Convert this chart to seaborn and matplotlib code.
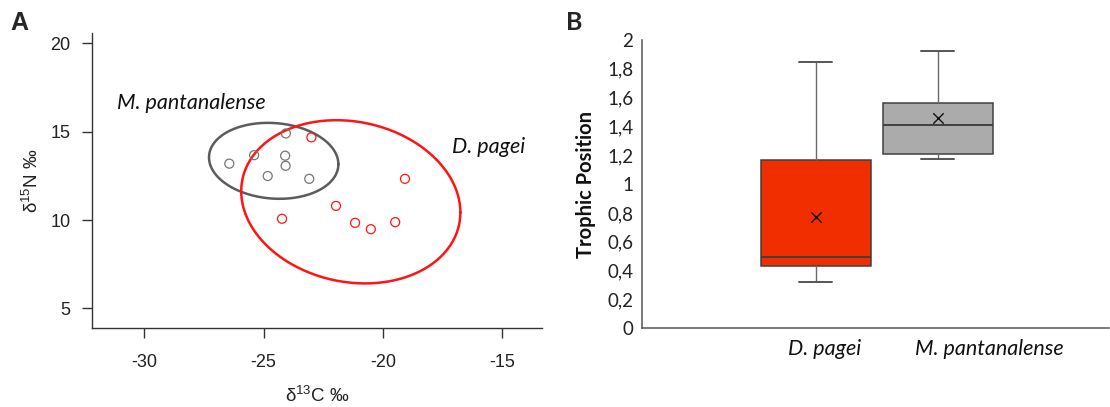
import numpy as np
import pandas as pd
import matplotlib
matplotlib.use("Agg")
import matplotlib.pyplot as plt
from matplotlib.ticker import FuncFormatter
import seaborn as sns

# ---- data ----
# panel A: stable isotopes
mp_d13c = [-26.44, -25.40, -24.07, -24.10, -24.08, -24.83, -23.09]
mp_d15n = [13.19, 13.67, 14.90, 13.64, 13.07, 12.49, 12.33]
dp_d13c = [-23.00, -19.08, -21.97, -24.23, -21.17, -20.51, -19.49]
dp_d15n = [14.68, 12.33, 10.80, 10.07, 9.84, 9.48, 9.88]

# ellipses: centre, sd along x, sd along y, correlation
mp_ellipse = dict(cx=-24.58, cy=13.35, sx=2.71, sy=2.15, r=-0.09)
dp_ellipse = dict(cx=-21.35, cy=11.03, sx=4.59, sy=4.62, r=-0.13)

# panel B: trophic position five-number summary + mean
species = ["D. pagei", "M. pantanalense"]
tp_min = [0.323, 1.172]
tp_q1 = [0.434, 1.209]
tp_median = [0.497, 1.412]
tp_q3 = [1.168, 1.565]
tp_max = [1.85, 1.926]
tp_mean = [0.774, 1.457]

GRAY_PT = "#767676"
GRAY_EL = "#5c5c5c"
RED = "#ff1414"
BOX_COLORS = ["#f02e00", "#ababab"]
CAL = ["Lato", "DejaVu Sans"]   # stand-in for Calibri


def ellipse_xy(cx, cy, sx, sy, r):
    t = np.linspace(0, 2 * np.pi, 300)
    x = cx + sx * np.cos(t)
    y = cy + sy * (r * np.cos(t) + np.sqrt(1 - r ** 2) * np.sin(t))
    return x, y


sns.set_style("ticks")
plt.rcParams["font.family"] = ["Liberation Sans", "DejaVu Sans"]
plt.rcParams["axes.unicode_minus"] = False
plt.rcParams["mathtext.fontset"] = "custom"
plt.rcParams["mathtext.rm"] = "Liberation Sans"
plt.rcParams["mathtext.it"] = "Liberation Sans:italic"

fig = plt.figure(figsize=(11.1, 4.07), dpi=100)
axA = fig.add_axes([0.0829, 0.1934, 0.4054, 0.7248])
axB = fig.add_axes([0.5781, 0.1934, 0.4210, 0.7083])

# ---------------- panel A ----------------
for el, col in [(mp_ellipse, GRAY_EL), (dp_ellipse, RED)]:
    ex, ey = ellipse_xy(**el)
    axA.plot(ex, ey, color=col, lw=1.8)

sns.scatterplot(x=mp_d13c, y=mp_d15n, ax=axA, s=42, facecolor="none",
                edgecolor=GRAY_PT, linewidth=0.9, zorder=3)
sns.scatterplot(x=dp_d13c, y=dp_d15n, ax=axA, s=42, facecolor="none",
                edgecolor=RED, linewidth=0.9, zorder=3)

axA.set_xlim(-32.19, -13.34)
axA.set_ylim(3.87, 20.57)
axA.set_xticks([-30, -25, -20, -15])
axA.set_yticks([5, 10, 15, 20])
for side in ["top", "right"]:
    axA.spines[side].set_visible(False)
for side in ["left", "bottom"]:
    axA.spines[side].set_color("#333333")
    axA.spines[side].set_linewidth(1.0)
axA.tick_params(axis="both", colors="#333333", labelcolor="#222222",
                labelsize=13, length=7.5, width=1.0, direction="out")
axA.tick_params(axis="x", pad=11)
axA.tick_params(axis="y", pad=8)
axA.set_xlabel("δ$^{13}$C ‰", fontsize=13.5, color="#222222")
axA.set_ylabel("δ$^{15}$N ‰", fontsize=13.5, color="#222222")
axA.xaxis.set_label_coords(0.5, -0.195)
axA.yaxis.set_label_coords(-0.112, 0.5)

axA.text(-31.15, 16.6, "M. pantanalense", fontsize=15.5, style="italic",
         family=CAL, ha="left", va="center", color="#111111")
axA.text(-17.09, 14.15, "D. pagei", fontsize=15.5, style="italic",
         family=CAL, ha="left", va="center", color="#111111")

# ---------------- panel B ----------------
# five-number summary per species, fed to seaborn's boxplot
box_df = pd.DataFrame({
    "species": np.repeat(species, 5),
    "tp": np.ravel(np.column_stack([tp_min, tp_q1, tp_median, tp_q3, tp_max])),
})
sns.boxplot(data=box_df, x="species", y="tp", hue="species", palette=BOX_COLORS,
            order=species, saturation=1, width=0.9, whis=1.5, legend=False,
            linecolor="#404040", linewidth=1.1, ax=axB, capwidths=0.27,
            whiskerprops=dict(color="#6a6a6a", linewidth=1.0),
            capprops=dict(color="#555555", linewidth=1.4),
            medianprops=dict(color="#404040", linewidth=1.4))
sns.stripplot(x=species, y=tp_mean, order=species, marker="x", jitter=False,
              color="#111111", size=7.5, linewidth=1.0, ax=axB, zorder=5)

axB.set_xlim(-1.423, 2.4)
axB.set_ylim(0, 2)
axB.set_yticks(np.arange(0, 2.01, 0.2))
axB.yaxis.set_major_formatter(FuncFormatter(lambda v, p: f"{v:.1f}".replace(".", ",").replace(",0", "")))
axB.set_xticks(np.arange(len(species)) + np.array([0.07, 0.42]))
axB.set_xticklabels(species, fontstyle="italic", family=CAL,
                    fontsize=15.5, color="#111111")
for lab in axB.get_yticklabels():
    lab.set_family(CAL)
axB.tick_params(axis="y", length=0, labelsize=13.5, pad=6, labelcolor="#222222")
axB.tick_params(axis="x", length=0, pad=8)
for side in ["top", "right"]:
    axB.spines[side].set_visible(False)
for side in ["left", "bottom"]:
    axB.spines[side].set_color("#555555")
    axB.spines[side].set_linewidth(1.1)
axB.set_xlabel("")
axB.set_ylabel("Trophic Position", fontsize=14.5, fontweight="bold",
               family=CAL, color="#111111")
axB.yaxis.set_label_coords(-0.097, 0.5)

fig.text(19.6 / 1110, 1 - 23 / 407, "A", fontsize=18, fontweight="bold",
         ha="center", va="center")
fig.text(574 / 1110, 1 - 23 / 407, "B", fontsize=18, fontweight="bold",
         family=CAL, ha="center", va="center")

fig.savefig("out.png", dpi=100)
